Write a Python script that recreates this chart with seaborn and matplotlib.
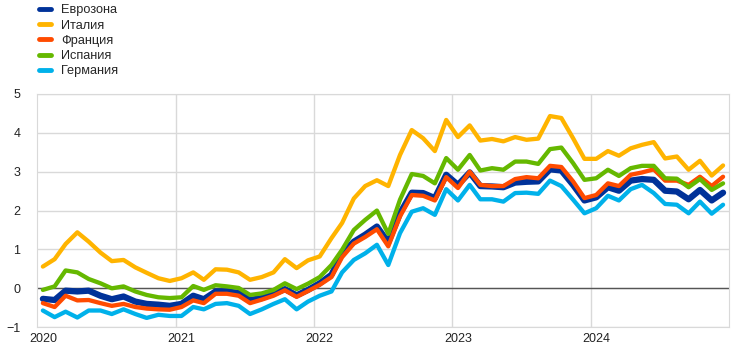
import pandas as pd
import seaborn as sns
import matplotlib.pyplot as plt

# monthly data, Jan 2020 - Dec 2024
months = pd.date_range("2020-01-01", "2024-12-01", freq="MS")

eurozone = [-0.27, -0.30, -0.06, -0.08, -0.06, -0.19, -0.28, -0.21, -0.34, -0.40, -0.42, -0.45,
            -0.40, -0.19, -0.28, -0.08, -0.08, -0.12, -0.30, -0.25, -0.14, -0.02, -0.18, -0.04,
            0.13, 0.35, 0.90, 1.20, 1.38, 1.59, 1.18, 1.93, 2.46, 2.45, 2.32, 2.92,
            2.66, 2.98, 2.63, 2.62, 2.60, 2.72, 2.74, 2.75, 3.06, 3.03, 2.66, 2.26,
            2.34, 2.60, 2.51, 2.77, 2.81, 2.79, 2.51, 2.49, 2.29, 2.53, 2.26, 2.46]
italy = [0.56, 0.75, 1.14, 1.44, 1.20, 0.92, 0.70, 0.73, 0.54, 0.40, 0.26, 0.19,
         0.26, 0.41, 0.22, 0.49, 0.48, 0.41, 0.22, 0.29, 0.41, 0.75, 0.52, 0.72,
         0.82, 1.29, 1.68, 2.31, 2.63, 2.78, 2.63, 3.43, 4.07, 3.86, 3.53, 4.33,
         3.89, 4.19, 3.80, 3.84, 3.78, 3.89, 3.82, 3.85, 4.43, 4.38, 3.86, 3.33,
         3.33, 3.53, 3.41, 3.60, 3.69, 3.76, 3.34, 3.39, 3.05, 3.28, 2.90, 3.16]
france = [-0.38, -0.48, -0.19, -0.31, -0.30, -0.38, -0.45, -0.40, -0.48, -0.52, -0.54, -0.55,
          -0.48, -0.31, -0.38, -0.14, -0.14, -0.19, -0.38, -0.29, -0.19, -0.05, -0.22, -0.07,
          0.09, 0.29, 0.80, 1.15, 1.32, 1.52, 1.08, 1.85, 2.40, 2.38, 2.26, 2.86,
          2.58, 3.00, 2.66, 2.63, 2.63, 2.81, 2.86, 2.83, 3.15, 3.12, 2.75, 2.32,
          2.40, 2.70, 2.63, 2.92, 2.98, 3.06, 2.77, 2.77, 2.66, 2.87, 2.63, 2.87]
spain = [-0.04, 0.05, 0.46, 0.41, 0.24, 0.13, 0.00, 0.05, -0.08, -0.17, -0.23, -0.25,
         -0.23, 0.06, -0.04, 0.08, 0.05, 0.01, -0.17, -0.13, -0.04, 0.13, -0.02, 0.12,
         0.29, 0.60, 0.99, 1.50, 1.76, 2.00, 1.40, 2.28, 2.94, 2.89, 2.70, 3.35,
         3.05, 3.43, 3.03, 3.09, 3.05, 3.26, 3.26, 3.20, 3.58, 3.62, 3.22, 2.79,
         2.83, 3.05, 2.89, 3.09, 3.15, 3.15, 2.83, 2.82, 2.60, 2.81, 2.53, 2.70]
germany = [-0.57, -0.74, -0.60, -0.75, -0.57, -0.57, -0.66, -0.54, -0.66, -0.76, -0.68, -0.71,
           -0.71, -0.48, -0.54, -0.40, -0.38, -0.45, -0.66, -0.54, -0.40, -0.28, -0.54, -0.34,
           -0.19, -0.08, 0.41, 0.73, 0.90, 1.12, 0.60, 1.42, 1.97, 2.06, 1.89, 2.55,
           2.26, 2.66, 2.29, 2.29, 2.23, 2.45, 2.46, 2.43, 2.77, 2.63, 2.28, 1.93,
           2.06, 2.38, 2.26, 2.55, 2.66, 2.45, 2.17, 2.15, 1.93, 2.23, 1.92, 2.15]

labels = ["Еврозона", "Италия", "Франция", "Испания", "Германия"]
colors = ["#003299", "#FFB400", "#FF4B00", "#65B800", "#00B1EA"]
years = [2020, 2021, 2022, 2023, 2024]

sns.set_style("white")
plt.rcParams["font.family"] = ["Liberation Sans", "DejaVu Sans"]

fig = plt.figure(figsize=(7.44, 3.53), dpi=100)
ax = fig.add_axes([0.05, 0.073, 0.93, 0.661])

ax.axhline(0, color="#555555", lw=1, zorder=1)

for lab, vals, col in zip(labels, [eurozone, italy, france, spain, germany], colors):
    d = pd.DataFrame({"date": months + pd.Timedelta(days=15), "value": vals})
    lw = 4.5 if lab == "Еврозона" else 3.1
    sns.lineplot(data=d, x="date", y="value", color=col, lw=lw, label=lab, ax=ax, zorder=3)

ax.set_xlim(pd.Timestamp("2020-01-01"), pd.Timestamp("2025-01-01"))
ax.set_ylim(-1, 5)
ax.set_yticks(range(-1, 6))
ax.set_xticks([pd.Timestamp(f"{y}-01-16") for y in years])
ax.set_xticklabels([str(y) for y in years])
ax.set_xticks([pd.Timestamp(f"{y}-01-01") for y in years[1:]], minor=True)
ax.grid(axis="y", color="#d9d9d9", lw=1)
ax.grid(axis="x", which="minor", color="#d9d9d9", lw=1)
ax.grid(axis="x", which="major", visible=False)
ax.tick_params(length=0, labelsize=9, colors="#222222")
ax.tick_params(axis="y", pad=12)
ax.tick_params(axis="x", pad=4)
ax.set_xlabel("")
ax.set_ylabel("")
for s in ax.spines.values():
    s.set_color("#d9d9d9")

h, l = ax.get_legend_handles_labels()
ax.legend_.remove()
leg = fig.legend(h, l, loc="upper left", bbox_to_anchor=(0.037, 1.02), frameon=False,
                 fontsize=9.2, handlelength=0.95, handletextpad=0.75, labelspacing=0.25)
for line in leg.get_lines():
    line.set_linewidth(3.5)

fig.savefig("out.png", dpi=100)
